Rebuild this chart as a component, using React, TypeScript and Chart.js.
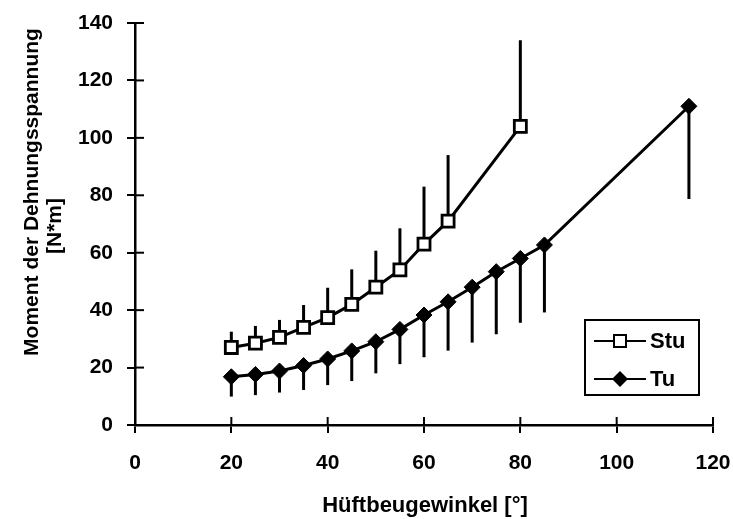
import React, { useEffect, useRef } from "react";
import { Chart, registerables } from "chart.js";

Chart.register(...registerables);

const seriesLabels = ["Stu", "Tu"];
const stuAngles = [20, 25, 30, 35, 40, 45, 50, 55, 60, 65, 80];
const stuMeans = [27, 28.5, 30.5, 34, 37.4, 42, 48, 54, 63, 71, 104];
const stuErrUp = [5.5, 6, 6.1, 7.8, 10.4, 12.2, 12.7, 14.5, 20, 23, 30];
const tuAngles = [20, 25, 30, 35, 40, 45, 50, 55, 60, 65, 70, 75, 80, 85, 115];
const tuMeans = [16.8, 17.6, 18.8, 20.7, 23, 25.8, 29, 33.3, 38.3, 42.9, 48, 53.4, 58, 62.7, 111];
const tuErrDown = [6.9, 7.2, 7.5, 8.5, 9.1, 10.5, 11, 12.1, 14.7, 17, 19.3, 21.8, 22.4, 23.5, 32.3];
const xTicks = [0, 20, 40, 60, 80, 100, 120];
const yTicks = [0, 20, 40, 60, 80, 100, 120, 140];
const xTitle = "Hüftbeugewinkel [°]";
const yTitleLines = ["Moment der Dehnungsspannung", "[N*m]"];

const FONT = '"Liberation Sans", Arial, Helvetica, sans-serif';

const errorBarPlugin = {
  id: "errorBars",
  beforeDatasetsDraw(chart: any) {
    const ctx = chart.ctx;
    const xs = chart.scales.x;
    const ys = chart.scales.y;
    ctx.save();
    ctx.strokeStyle = "#000";
    ctx.lineWidth = 3;
    chart.data.datasets.forEach((ds: any) => {
      const errs: number[] = ds.errors;
      const dir: number = ds.errorDir;
      ds.data.forEach((p: any, i: number) => {
        const px = xs.getPixelForValue(p.x);
        const y0 = ys.getPixelForValue(p.y);
        const y1 = ys.getPixelForValue(p.y + dir * errs[i]);
        ctx.beginPath();
        ctx.moveTo(px, y0);
        ctx.lineTo(px, y1);
        ctx.stroke();
      });
    });
    ctx.restore();
  },
};

const decorPlugin = {
  id: "decor",
  afterDraw(chart: any) {
    const ctx = chart.ctx;
    const xs = chart.scales.x;
    const ys = chart.scales.y;
    const area = chart.chartArea;
    ctx.save();
    ctx.strokeStyle = "#000";
    ctx.lineWidth = 2;
    // inner halves of crossing ticks
    xTicks.forEach((v) => {
      const px = xs.getPixelForValue(v);
      ctx.beginPath();
      ctx.moveTo(px, area.bottom);
      ctx.lineTo(px, area.bottom - 8);
      ctx.stroke();
    });
    yTicks.forEach((v) => {
      const py = ys.getPixelForValue(v);
      ctx.beginPath();
      ctx.moveTo(area.left, py);
      ctx.lineTo(area.left + 9, py);
      ctx.stroke();
    });

    // axis titles
    ctx.fillStyle = "#000";
    ctx.font = `bold 22px ${FONT}`;
    ctx.textAlign = "center";
    ctx.textBaseline = "alphabetic";
    ctx.fillText(xTitle, 425, 512);

    ctx.font = `bold 21px ${FONT}`;
    ctx.textBaseline = "middle";
    ctx.save();
    ctx.translate(32, 192);
    ctx.rotate(-Math.PI / 2);
    ctx.fillText(yTitleLines[0], 0, 0);
    ctx.restore();
    ctx.save();
    ctx.translate(55, 226);
    ctx.rotate(-Math.PI / 2);
    ctx.fillText(yTitleLines[1], 0, 0);
    ctx.restore();

    // legend
    const bx = 585, by = 320, bw = 114, bh = 75;
    ctx.lineWidth = 2;
    ctx.strokeRect(bx, by, bw, bh);
    const rows = [341, 379];
    chart.data.datasets.forEach((ds: any, i: number) => {
      const y = rows[i];
      ctx.strokeStyle = "#000";
      ctx.lineWidth = 2;
      ctx.beginPath();
      ctx.moveTo(594, y);
      ctx.lineTo(646, y);
      ctx.stroke();
      const mx = 620;
      if (ds.pointStyle === "rect") {
        ctx.fillStyle = "#fff";
        ctx.fillRect(mx - 6, y - 6, 12, 12);
        ctx.lineWidth = 2;
        ctx.strokeRect(mx - 6, y - 6, 12, 12);
      } else {
        ctx.fillStyle = "#000";
        ctx.beginPath();
        ctx.moveTo(mx, y - 8);
        ctx.lineTo(mx + 8, y);
        ctx.lineTo(mx, y + 8);
        ctx.lineTo(mx - 8, y);
        ctx.closePath();
        ctx.fill();
      }
      ctx.fillStyle = "#000";
      ctx.font = `bold 22px ${FONT}`;
      ctx.textAlign = "left";
      ctx.textBaseline = "middle";
      ctx.fillText(ds.label, 650, y + 1);
    });
    ctx.restore();
  },
};

export default function App() {
  const ref = useRef<HTMLCanvasElement | null>(null);

  useEffect(() => {
    if (!ref.current) return;
    const chart = new Chart(ref.current, {
      type: "line",
      data: {
        datasets: [
          {
            label: seriesLabels[0],
            data: stuAngles.map((x, i) => ({ x, y: stuMeans[i] })),
            borderColor: "#000",
            borderWidth: 3,
            pointStyle: "rect",
            pointRadius: 8.5,
            pointBorderWidth: 2.8,
            pointBackgroundColor: "#fff",
            pointBorderColor: "#000",
            fill: false,
            tension: 0,
            errors: stuErrUp,
            errorDir: 1,
          } as any,
          {
            label: seriesLabels[1],
            data: tuAngles.map((x, i) => ({ x, y: tuMeans[i] })),
            borderColor: "#000",
            borderWidth: 3,
            pointStyle: "rectRot",
            pointRadius: 8,
            pointBorderWidth: 1,
            pointBackgroundColor: "#000",
            pointBorderColor: "#000",
            fill: false,
            tension: 0,
            errors: tuErrDown,
            errorDir: -1,
          } as any,
        ],
      },
      options: {
        animation: false,
        responsive: false,
        layout: { padding: { left: 0, top: 23, right: 20, bottom: 0 } },
        plugins: {
          legend: { display: false },
          tooltip: { enabled: false },
          title: { display: false },
        },
        scales: {
          x: {
            type: "linear",
            min: 0,
            max: 120,
            afterBuildTicks: (s: any) => {
              s.ticks = xTicks.map((v) => ({ value: v }));
            },
            afterFit: (s: any) => {
              s.height = 94;
              s.paddingLeft = 0;
              s.paddingRight = 0;
            },
            grid: {
              drawOnChartArea: false,
              tickLength: 8,
              color: "#000",
              lineWidth: 2,
            },
            border: { display: true, color: "#000", width: 2.5 },
            ticks: {
              color: "#000",
              font: { family: FONT, size: 21, weight: "bold" },
              padding: 18,
              maxRotation: 0,
            },
          },
          y: {
            type: "linear",
            min: 0,
            max: 140,
            afterBuildTicks: (s: any) => {
              s.ticks = yTicks.map((v) => ({ value: v }));
            },
            afterFit: (s: any) => {
              s.width = 135;
              s.paddingTop = 0;
              s.paddingBottom = 0;
            },
            grid: {
              drawOnChartArea: false,
              tickLength: 8,
              color: "#000",
              lineWidth: 2,
            },
            border: { display: true, color: "#000", width: 2.5 },
            ticks: {
              color: "#000",
              font: { family: FONT, size: 21, weight: "bold" },
              padding: 14,
            },
          },
        },
      } as any,
      plugins: [errorBarPlugin, decorPlugin],
    });
    return () => chart.destroy();
  }, []);

  return (
    <div style={{ position: "absolute", left: 0, top: 0, width: 733, height: 519, background: "#fff" }}>
      <canvas ref={ref} width={733} height={519} style={{ display: "block" }} />
    </div>
  );
}
